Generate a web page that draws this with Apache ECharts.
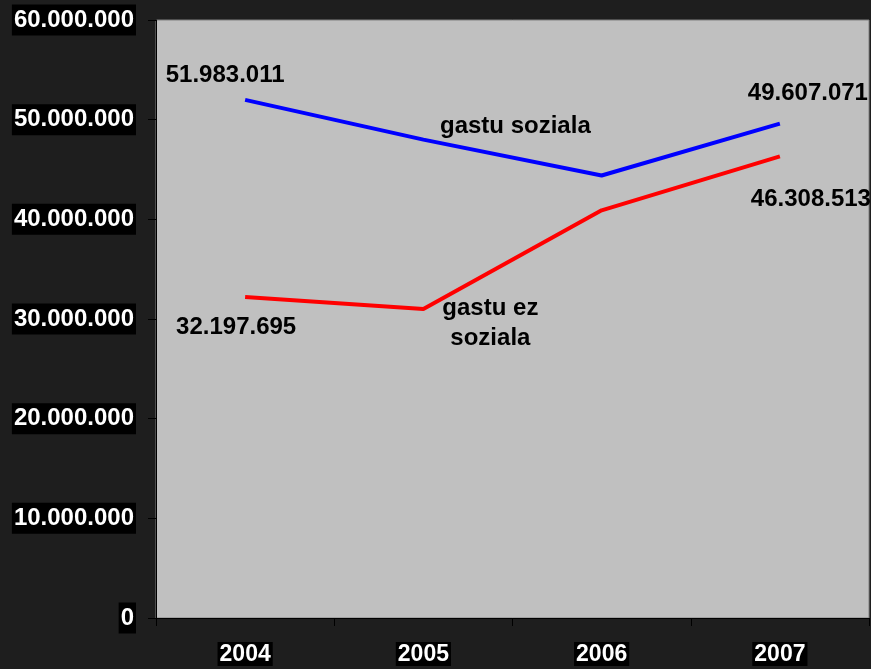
<!DOCTYPE html>
<html>
<head>
<meta charset="utf-8">
<script src="https://cdn.jsdelivr.net/npm/echarts@6/dist/echarts.min.js"></script>
<style>
  html, body { margin: 0; padding: 0; background: #1e1e1e; }
  #chart { width: 871px; height: 669px; }
</style>
</head>
<body>
<div id="chart"></div>
<script>
// years on the x axis
const years = ['2004', '2005', '2006', '2007']
// gastu soziala / gastu ez soziala
const socialValues = [51983011, 48000000, 44400000, 49607071]
const nonSocialValues = [32197695, 31000000, 40900000, 46308513]
const seriesNames = ['gastu soziala', 'gastu ez\nsoziala']
// y axis ticks
const yTicks = [0, 10000000, 20000000, 30000000, 40000000, 50000000, 60000000]

const fmt = v => String(v).replace(/\B(?=(\d{3})+(?!\d))/g, '.')

const labelFont = {
  color: '#000',
  fontFamily: 'Liberation Sans, Arial, sans-serif',
  fontWeight: 'bold',
  fontSize: 24
}

// which points get a label and where it sits (offset from the point)
const socialLabels = [
  { text: 'value', offset: [-20, -25] },
  { text: 'name', offset: [92, -13] },
  null,
  { text: 'value', offset: [28, -30] }
]
const nonSocialLabels = [
  { text: 'value', offset: [-9, 30] },
  { text: 'name', offset: [67, 14] },
  null,
  { text: 'value', offset: [31, 43] }
]

const buildData = (values, labels, name) => values.map((v, i) => {
  const l = labels[i]
  if (!l) return { value: v }
  return {
    value: v,
    label: Object.assign({
      show: true,
      position: 'inside',
      offset: l.offset,
      lineHeight: 30,
      align: 'center',
      verticalAlign: 'middle',
      formatter: l.text === 'value' ? fmt(v) : name
    }, labelFont)
  }
})

const myChart = echarts.init(document.getElementById('chart'))
const options = {
  backgroundColor: '#1e1e1e',
  animation: false,
  grid: {
    left: 156,
    right: 2,
    top: 20,
    bottom: 51,
    show: true,
    backgroundColor: '#c0c0c0',
    borderColor: '#808080',
    borderWidth: 1
  },
  xAxis: {
    type: 'category',
    data: years,
    boundaryGap: true,
    axisLine: { lineStyle: { color: '#000', width: 1 } },
    axisTick: { show: true, length: 8, lineStyle: { color: '#000' } },
    axisLabel: {
      color: '#fff',
      backgroundColor: '#000',
      padding: [1, 2, 0, 2],
      fontFamily: 'Liberation Sans, Arial, sans-serif',
      fontWeight: 'bold',
      fontSize: 23,
      margin: 24
    }
  },
  yAxis: {
    type: 'value',
    min: yTicks[0],
    max: yTicks[yTicks.length - 1],
    interval: yTicks[1] - yTicks[0],
    splitLine: { show: false },
    axisLine: { show: true, lineStyle: { color: '#000', width: 1 } },
    axisTick: { show: true, length: 8, lineStyle: { color: '#000' } },
    axisLabel: {
      color: '#fff',
      backgroundColor: '#000',
      padding: [4, 2, 3, 2],
      fontFamily: 'Liberation Sans, Arial, sans-serif',
      fontWeight: 'bold',
      fontSize: 24,
      margin: 20,
      formatter: v => fmt(v)
    }
  },
  series: [
    {
      type: 'line',
      name: 'gastu soziala',
      data: buildData(socialValues, socialLabels, seriesNames[0]),
      showSymbol: true,
      symbol: 'circle',
      symbolSize: 0,
      lineStyle: { color: '#0000ff', width: 4 },
      itemStyle: { color: '#0000ff' }
    },
    {
      type: 'line',
      name: 'gastu ez soziala',
      data: buildData(nonSocialValues, nonSocialLabels, seriesNames[1]),
      showSymbol: true,
      symbol: 'circle',
      symbolSize: 0,
      lineStyle: { color: '#ff0000', width: 4 },
      itemStyle: { color: '#ff0000' }
    }
  ]
}
myChart.setOption(options)
</script>
</body>
</html>
